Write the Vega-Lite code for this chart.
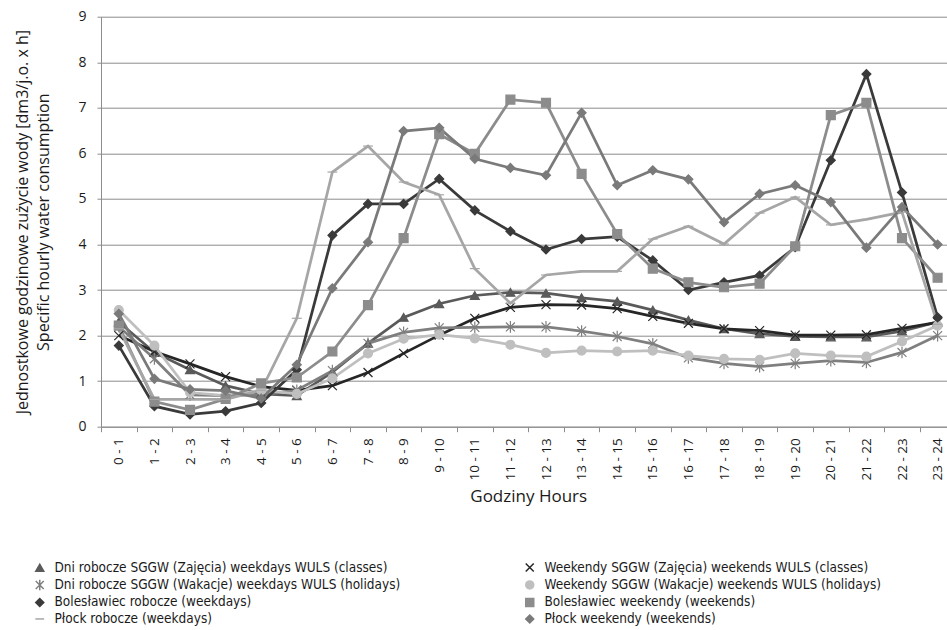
{
  "$schema": "https://vega.github.io/schema/vega-lite/v6.json",
  "width": 846,
  "height": 410,
  "autosize": {"type": "none"},
  "padding": {"left": 101, "top": 16.7, "right": 0, "bottom": 203.3},
  "background": "white",
  "config": {
    "view": {"stroke": null},
    "font": "Open Sans",
    "axis": {
      "gridColor": "#8c8c8c",
      "domainColor": "#8c8c8c",
      "tickColor": "#8c8c8c",
      "labelColor": "#1a1a1a",
      "titleColor": "#1a1a1a",
      "labelFont": "Open Sans",
      "titleFont": "Open Sans",
      "titleFontWeight": "normal"
    }
  },
  "data": {
    "values": [
      {"h": "0 - 1", "s": "Dni robocze SGGW (Zajęcia) weekdays WULS (classes)", "v": 2.3},
      {"h": "1 - 2", "s": "Dni robocze SGGW (Zajęcia) weekdays WULS (classes)", "v": 1.63},
      {"h": "2 - 3", "s": "Dni robocze SGGW (Zajęcia) weekdays WULS (classes)", "v": 1.25},
      {"h": "3 - 4", "s": "Dni robocze SGGW (Zajęcia) weekdays WULS (classes)", "v": 0.9},
      {"h": "4 - 5", "s": "Dni robocze SGGW (Zajęcia) weekdays WULS (classes)", "v": 0.72},
      {"h": "5 - 6", "s": "Dni robocze SGGW (Zajęcia) weekdays WULS (classes)", "v": 0.68},
      {"h": "6 - 7", "s": "Dni robocze SGGW (Zajęcia) weekdays WULS (classes)", "v": 1.2},
      {"h": "7 - 8", "s": "Dni robocze SGGW (Zajęcia) weekdays WULS (classes)", "v": 1.83},
      {"h": "8 - 9", "s": "Dni robocze SGGW (Zajęcia) weekdays WULS (classes)", "v": 2.4},
      {"h": "9 - 10", "s": "Dni robocze SGGW (Zajęcia) weekdays WULS (classes)", "v": 2.7},
      {"h": "10 - 11", "s": "Dni robocze SGGW (Zajęcia) weekdays WULS (classes)", "v": 2.88},
      {"h": "11 - 12", "s": "Dni robocze SGGW (Zajęcia) weekdays WULS (classes)", "v": 2.95},
      {"h": "12 - 13", "s": "Dni robocze SGGW (Zajęcia) weekdays WULS (classes)", "v": 2.93},
      {"h": "13 - 14", "s": "Dni robocze SGGW (Zajęcia) weekdays WULS (classes)", "v": 2.83},
      {"h": "14 - 15", "s": "Dni robocze SGGW (Zajęcia) weekdays WULS (classes)", "v": 2.75},
      {"h": "15 - 16", "s": "Dni robocze SGGW (Zajęcia) weekdays WULS (classes)", "v": 2.56},
      {"h": "16 - 17", "s": "Dni robocze SGGW (Zajęcia) weekdays WULS (classes)", "v": 2.34},
      {"h": "17 - 18", "s": "Dni robocze SGGW (Zajęcia) weekdays WULS (classes)", "v": 2.15},
      {"h": "18 - 19", "s": "Dni robocze SGGW (Zajęcia) weekdays WULS (classes)", "v": 2.04},
      {"h": "19 - 20", "s": "Dni robocze SGGW (Zajęcia) weekdays WULS (classes)", "v": 1.98},
      {"h": "20 - 21", "s": "Dni robocze SGGW (Zajęcia) weekdays WULS (classes)", "v": 1.97},
      {"h": "21 - 22", "s": "Dni robocze SGGW (Zajęcia) weekdays WULS (classes)", "v": 1.97},
      {"h": "22 - 23", "s": "Dni robocze SGGW (Zajęcia) weekdays WULS (classes)", "v": 2.1},
      {"h": "23 - 24", "s": "Dni robocze SGGW (Zajęcia) weekdays WULS (classes)", "v": 2.3},

      {"h": "0 - 1", "s": "Weekendy SGGW (Zajęcia) weekends WULS (classes)", "v": 2.0},
      {"h": "1 - 2", "s": "Weekendy SGGW (Zajęcia) weekends WULS (classes)", "v": 1.65},
      {"h": "2 - 3", "s": "Weekendy SGGW (Zajęcia) weekends WULS (classes)", "v": 1.38},
      {"h": "3 - 4", "s": "Weekendy SGGW (Zajęcia) weekends WULS (classes)", "v": 1.1},
      {"h": "4 - 5", "s": "Weekendy SGGW (Zajęcia) weekends WULS (classes)", "v": 0.88},
      {"h": "5 - 6", "s": "Weekendy SGGW (Zajęcia) weekends WULS (classes)", "v": 0.8},
      {"h": "6 - 7", "s": "Weekendy SGGW (Zajęcia) weekends WULS (classes)", "v": 0.9},
      {"h": "7 - 8", "s": "Weekendy SGGW (Zajęcia) weekends WULS (classes)", "v": 1.19},
      {"h": "8 - 9", "s": "Weekendy SGGW (Zajęcia) weekends WULS (classes)", "v": 1.61},
      {"h": "9 - 10", "s": "Weekendy SGGW (Zajęcia) weekends WULS (classes)", "v": 2.01},
      {"h": "10 - 11", "s": "Weekendy SGGW (Zajęcia) weekends WULS (classes)", "v": 2.38},
      {"h": "11 - 12", "s": "Weekendy SGGW (Zajęcia) weekends WULS (classes)", "v": 2.62},
      {"h": "12 - 13", "s": "Weekendy SGGW (Zajęcia) weekends WULS (classes)", "v": 2.68},
      {"h": "13 - 14", "s": "Weekendy SGGW (Zajęcia) weekends WULS (classes)", "v": 2.67},
      {"h": "14 - 15", "s": "Weekendy SGGW (Zajęcia) weekends WULS (classes)", "v": 2.59},
      {"h": "15 - 16", "s": "Weekendy SGGW (Zajęcia) weekends WULS (classes)", "v": 2.42},
      {"h": "16 - 17", "s": "Weekendy SGGW (Zajęcia) weekends WULS (classes)", "v": 2.27},
      {"h": "17 - 18", "s": "Weekendy SGGW (Zajęcia) weekends WULS (classes)", "v": 2.15},
      {"h": "18 - 19", "s": "Weekendy SGGW (Zajęcia) weekends WULS (classes)", "v": 2.11},
      {"h": "19 - 20", "s": "Weekendy SGGW (Zajęcia) weekends WULS (classes)", "v": 2.01},
      {"h": "20 - 21", "s": "Weekendy SGGW (Zajęcia) weekends WULS (classes)", "v": 2.01},
      {"h": "21 - 22", "s": "Weekendy SGGW (Zajęcia) weekends WULS (classes)", "v": 2.02},
      {"h": "22 - 23", "s": "Weekendy SGGW (Zajęcia) weekends WULS (classes)", "v": 2.16},
      {"h": "23 - 24", "s": "Weekendy SGGW (Zajęcia) weekends WULS (classes)", "v": 2.29},

      {"h": "0 - 1", "s": "Dni robocze SGGW (Wakacje) weekdays WULS (holidays)", "v": 2.2},
      {"h": "1 - 2", "s": "Dni robocze SGGW (Wakacje) weekdays WULS (holidays)", "v": 1.49},
      {"h": "2 - 3", "s": "Dni robocze SGGW (Wakacje) weekdays WULS (holidays)", "v": 0.7},
      {"h": "3 - 4", "s": "Dni robocze SGGW (Wakacje) weekdays WULS (holidays)", "v": 0.68},
      {"h": "4 - 5", "s": "Dni robocze SGGW (Wakacje) weekdays WULS (holidays)", "v": 0.7},
      {"h": "5 - 6", "s": "Dni robocze SGGW (Wakacje) weekdays WULS (holidays)", "v": 0.8},
      {"h": "6 - 7", "s": "Dni robocze SGGW (Wakacje) weekdays WULS (holidays)", "v": 1.23},
      {"h": "7 - 8", "s": "Dni robocze SGGW (Wakacje) weekdays WULS (holidays)", "v": 1.83},
      {"h": "8 - 9", "s": "Dni robocze SGGW (Wakacje) weekdays WULS (holidays)", "v": 2.07},
      {"h": "9 - 10", "s": "Dni robocze SGGW (Wakacje) weekdays WULS (holidays)", "v": 2.17},
      {"h": "10 - 11", "s": "Dni robocze SGGW (Wakacje) weekdays WULS (holidays)", "v": 2.18},
      {"h": "11 - 12", "s": "Dni robocze SGGW (Wakacje) weekdays WULS (holidays)", "v": 2.19},
      {"h": "12 - 13", "s": "Dni robocze SGGW (Wakacje) weekdays WULS (holidays)", "v": 2.19},
      {"h": "13 - 14", "s": "Dni robocze SGGW (Wakacje) weekdays WULS (holidays)", "v": 2.1},
      {"h": "14 - 15", "s": "Dni robocze SGGW (Wakacje) weekdays WULS (holidays)", "v": 1.98},
      {"h": "15 - 16", "s": "Dni robocze SGGW (Wakacje) weekdays WULS (holidays)", "v": 1.82},
      {"h": "16 - 17", "s": "Dni robocze SGGW (Wakacje) weekdays WULS (holidays)", "v": 1.51},
      {"h": "17 - 18", "s": "Dni robocze SGGW (Wakacje) weekdays WULS (holidays)", "v": 1.39},
      {"h": "18 - 19", "s": "Dni robocze SGGW (Wakacje) weekdays WULS (holidays)", "v": 1.32},
      {"h": "19 - 20", "s": "Dni robocze SGGW (Wakacje) weekdays WULS (holidays)", "v": 1.39},
      {"h": "20 - 21", "s": "Dni robocze SGGW (Wakacje) weekdays WULS (holidays)", "v": 1.45},
      {"h": "21 - 22", "s": "Dni robocze SGGW (Wakacje) weekdays WULS (holidays)", "v": 1.41},
      {"h": "22 - 23", "s": "Dni robocze SGGW (Wakacje) weekdays WULS (holidays)", "v": 1.63},
      {"h": "23 - 24", "s": "Dni robocze SGGW (Wakacje) weekdays WULS (holidays)", "v": 2.0},

      {"h": "0 - 1", "s": "Weekendy SGGW (Wakacje) weekends WULS (holidays)", "v": 2.56},
      {"h": "1 - 2", "s": "Weekendy SGGW (Wakacje) weekends WULS (holidays)", "v": 1.78},
      {"h": "2 - 3", "s": "Weekendy SGGW (Wakacje) weekends WULS (holidays)", "v": 0.75},
      {"h": "3 - 4", "s": "Weekendy SGGW (Wakacje) weekends WULS (holidays)", "v": 0.68},
      {"h": "4 - 5", "s": "Weekendy SGGW (Wakacje) weekends WULS (holidays)", "v": 0.8},
      {"h": "5 - 6", "s": "Weekendy SGGW (Wakacje) weekends WULS (holidays)", "v": 0.72},
      {"h": "6 - 7", "s": "Weekendy SGGW (Wakacje) weekends WULS (holidays)", "v": 1.06},
      {"h": "7 - 8", "s": "Weekendy SGGW (Wakacje) weekends WULS (holidays)", "v": 1.61},
      {"h": "8 - 9", "s": "Weekendy SGGW (Wakacje) weekends WULS (holidays)", "v": 1.93},
      {"h": "9 - 10", "s": "Weekendy SGGW (Wakacje) weekends WULS (holidays)", "v": 2.02},
      {"h": "10 - 11", "s": "Weekendy SGGW (Wakacje) weekends WULS (holidays)", "v": 1.94},
      {"h": "11 - 12", "s": "Weekendy SGGW (Wakacje) weekends WULS (holidays)", "v": 1.8},
      {"h": "12 - 13", "s": "Weekendy SGGW (Wakacje) weekends WULS (holidays)", "v": 1.62},
      {"h": "13 - 14", "s": "Weekendy SGGW (Wakacje) weekends WULS (holidays)", "v": 1.67},
      {"h": "14 - 15", "s": "Weekendy SGGW (Wakacje) weekends WULS (holidays)", "v": 1.65},
      {"h": "15 - 16", "s": "Weekendy SGGW (Wakacje) weekends WULS (holidays)", "v": 1.67},
      {"h": "16 - 17", "s": "Weekendy SGGW (Wakacje) weekends WULS (holidays)", "v": 1.56},
      {"h": "17 - 18", "s": "Weekendy SGGW (Wakacje) weekends WULS (holidays)", "v": 1.49},
      {"h": "18 - 19", "s": "Weekendy SGGW (Wakacje) weekends WULS (holidays)", "v": 1.47},
      {"h": "19 - 20", "s": "Weekendy SGGW (Wakacje) weekends WULS (holidays)", "v": 1.61},
      {"h": "20 - 21", "s": "Weekendy SGGW (Wakacje) weekends WULS (holidays)", "v": 1.56},
      {"h": "21 - 22", "s": "Weekendy SGGW (Wakacje) weekends WULS (holidays)", "v": 1.54},
      {"h": "22 - 23", "s": "Weekendy SGGW (Wakacje) weekends WULS (holidays)", "v": 1.87},
      {"h": "23 - 24", "s": "Weekendy SGGW (Wakacje) weekends WULS (holidays)", "v": 2.22},

      {"h": "0 - 1", "s": "Bolesławiec robocze (weekdays)", "v": 1.78},
      {"h": "1 - 2", "s": "Bolesławiec robocze (weekdays)", "v": 0.45},
      {"h": "2 - 3", "s": "Bolesławiec robocze (weekdays)", "v": 0.27},
      {"h": "3 - 4", "s": "Bolesławiec robocze (weekdays)", "v": 0.34},
      {"h": "4 - 5", "s": "Bolesławiec robocze (weekdays)", "v": 0.52},
      {"h": "5 - 6", "s": "Bolesławiec robocze (weekdays)", "v": 1.25},
      {"h": "6 - 7", "s": "Bolesławiec robocze (weekdays)", "v": 4.2},
      {"h": "7 - 8", "s": "Bolesławiec robocze (weekdays)", "v": 4.89},
      {"h": "8 - 9", "s": "Bolesławiec robocze (weekdays)", "v": 4.89},
      {"h": "9 - 10", "s": "Bolesławiec robocze (weekdays)", "v": 5.44},
      {"h": "10 - 11", "s": "Bolesławiec robocze (weekdays)", "v": 4.75},
      {"h": "11 - 12", "s": "Bolesławiec robocze (weekdays)", "v": 4.29},
      {"h": "12 - 13", "s": "Bolesławiec robocze (weekdays)", "v": 3.89},
      {"h": "13 - 14", "s": "Bolesławiec robocze (weekdays)", "v": 4.12},
      {"h": "14 - 15", "s": "Bolesławiec robocze (weekdays)", "v": 4.17},
      {"h": "15 - 16", "s": "Bolesławiec robocze (weekdays)", "v": 3.65},
      {"h": "16 - 17", "s": "Bolesławiec robocze (weekdays)", "v": 3.0},
      {"h": "17 - 18", "s": "Bolesławiec robocze (weekdays)", "v": 3.17},
      {"h": "18 - 19", "s": "Bolesławiec robocze (weekdays)", "v": 3.32},
      {"h": "19 - 20", "s": "Bolesławiec robocze (weekdays)", "v": 3.94},
      {"h": "20 - 21", "s": "Bolesławiec robocze (weekdays)", "v": 5.85},
      {"h": "21 - 22", "s": "Bolesławiec robocze (weekdays)", "v": 7.74},
      {"h": "22 - 23", "s": "Bolesławiec robocze (weekdays)", "v": 5.14},
      {"h": "23 - 24", "s": "Bolesławiec robocze (weekdays)", "v": 2.4},

      {"h": "0 - 1", "s": "Bolesławiec weekendy (weekends)", "v": 2.22},
      {"h": "1 - 2", "s": "Bolesławiec weekendy (weekends)", "v": 0.55},
      {"h": "2 - 3", "s": "Bolesławiec weekendy (weekends)", "v": 0.37},
      {"h": "3 - 4", "s": "Bolesławiec weekendy (weekends)", "v": 0.61},
      {"h": "4 - 5", "s": "Bolesławiec weekendy (weekends)", "v": 0.95},
      {"h": "5 - 6", "s": "Bolesławiec weekendy (weekends)", "v": 1.08},
      {"h": "6 - 7", "s": "Bolesławiec weekendy (weekends)", "v": 1.65},
      {"h": "7 - 8", "s": "Bolesławiec weekendy (weekends)", "v": 2.67},
      {"h": "8 - 9", "s": "Bolesławiec weekendy (weekends)", "v": 4.14},
      {"h": "9 - 10", "s": "Bolesławiec weekendy (weekends)", "v": 6.42},
      {"h": "10 - 11", "s": "Bolesławiec weekendy (weekends)", "v": 5.99},
      {"h": "11 - 12", "s": "Bolesławiec weekendy (weekends)", "v": 7.18},
      {"h": "12 - 13", "s": "Bolesławiec weekendy (weekends)", "v": 7.11},
      {"h": "13 - 14", "s": "Bolesławiec weekendy (weekends)", "v": 5.55},
      {"h": "14 - 15", "s": "Bolesławiec weekendy (weekends)", "v": 4.23},
      {"h": "15 - 16", "s": "Bolesławiec weekendy (weekends)", "v": 3.47},
      {"h": "16 - 17", "s": "Bolesławiec weekendy (weekends)", "v": 3.17},
      {"h": "17 - 18", "s": "Bolesławiec weekendy (weekends)", "v": 3.06},
      {"h": "18 - 19", "s": "Bolesławiec weekendy (weekends)", "v": 3.14},
      {"h": "19 - 20", "s": "Bolesławiec weekendy (weekends)", "v": 3.96},
      {"h": "20 - 21", "s": "Bolesławiec weekendy (weekends)", "v": 6.84},
      {"h": "21 - 22", "s": "Bolesławiec weekendy (weekends)", "v": 7.11},
      {"h": "22 - 23", "s": "Bolesławiec weekendy (weekends)", "v": 4.14},
      {"h": "23 - 24", "s": "Bolesławiec weekendy (weekends)", "v": 3.27},

      {"h": "0 - 1", "s": "Płock robocze (weekdays)", "v": 2.15},
      {"h": "1 - 2", "s": "Płock robocze (weekdays)", "v": 0.6},
      {"h": "2 - 3", "s": "Płock robocze (weekdays)", "v": 0.6},
      {"h": "3 - 4", "s": "Płock robocze (weekdays)", "v": 0.6},
      {"h": "4 - 5", "s": "Płock robocze (weekdays)", "v": 0.8},
      {"h": "5 - 6", "s": "Płock robocze (weekdays)", "v": 2.38},
      {"h": "6 - 7", "s": "Płock robocze (weekdays)", "v": 5.59},
      {"h": "7 - 8", "s": "Płock robocze (weekdays)", "v": 6.16},
      {"h": "8 - 9", "s": "Płock robocze (weekdays)", "v": 5.37},
      {"h": "9 - 10", "s": "Płock robocze (weekdays)", "v": 5.09},
      {"h": "10 - 11", "s": "Płock robocze (weekdays)", "v": 3.47},
      {"h": "11 - 12", "s": "Płock robocze (weekdays)", "v": 2.71},
      {"h": "12 - 13", "s": "Płock robocze (weekdays)", "v": 3.33},
      {"h": "13 - 14", "s": "Płock robocze (weekdays)", "v": 3.41},
      {"h": "14 - 15", "s": "Płock robocze (weekdays)", "v": 3.41},
      {"h": "15 - 16", "s": "Płock robocze (weekdays)", "v": 4.12},
      {"h": "16 - 17", "s": "Płock robocze (weekdays)", "v": 4.4},
      {"h": "17 - 18", "s": "Płock robocze (weekdays)", "v": 4.01},
      {"h": "18 - 19", "s": "Płock robocze (weekdays)", "v": 4.69},
      {"h": "19 - 20", "s": "Płock robocze (weekdays)", "v": 5.04},
      {"h": "20 - 21", "s": "Płock robocze (weekdays)", "v": 4.43},
      {"h": "21 - 22", "s": "Płock robocze (weekdays)", "v": 4.55},
      {"h": "22 - 23", "s": "Płock robocze (weekdays)", "v": 4.71},
      {"h": "23 - 24", "s": "Płock robocze (weekdays)", "v": 2.25},

      {"h": "0 - 1", "s": "Płock weekendy (weekends)", "v": 2.48},
      {"h": "1 - 2", "s": "Płock weekendy (weekends)", "v": 1.05},
      {"h": "2 - 3", "s": "Płock weekendy (weekends)", "v": 0.82},
      {"h": "3 - 4", "s": "Płock weekendy (weekends)", "v": 0.79},
      {"h": "4 - 5", "s": "Płock weekendy (weekends)", "v": 0.62},
      {"h": "5 - 6", "s": "Płock weekendy (weekends)", "v": 1.36},
      {"h": "6 - 7", "s": "Płock weekendy (weekends)", "v": 3.04},
      {"h": "7 - 8", "s": "Płock weekendy (weekends)", "v": 4.05},
      {"h": "8 - 9", "s": "Płock weekendy (weekends)", "v": 6.49},
      {"h": "9 - 10", "s": "Płock weekendy (weekends)", "v": 6.56},
      {"h": "10 - 11", "s": "Płock weekendy (weekends)", "v": 5.88},
      {"h": "11 - 12", "s": "Płock weekendy (weekends)", "v": 5.68},
      {"h": "12 - 13", "s": "Płock weekendy (weekends)", "v": 5.52},
      {"h": "13 - 14", "s": "Płock weekendy (weekends)", "v": 6.89},
      {"h": "14 - 15", "s": "Płock weekendy (weekends)", "v": 5.3},
      {"h": "15 - 16", "s": "Płock weekendy (weekends)", "v": 5.63},
      {"h": "16 - 17", "s": "Płock weekendy (weekends)", "v": 5.43},
      {"h": "17 - 18", "s": "Płock weekendy (weekends)", "v": 4.49},
      {"h": "18 - 19", "s": "Płock weekendy (weekends)", "v": 5.11},
      {"h": "19 - 20", "s": "Płock weekendy (weekends)", "v": 5.3},
      {"h": "20 - 21", "s": "Płock weekendy (weekends)", "v": 4.93},
      {"h": "21 - 22", "s": "Płock weekendy (weekends)", "v": 3.93},
      {"h": "22 - 23", "s": "Płock weekendy (weekends)", "v": 4.82},
      {"h": "23 - 24", "s": "Płock weekendy (weekends)", "v": 4.0}
    ]
  },
  "encoding": {
    "x": {
      "field": "h",
      "type": "ordinal",
      "sort": null,
      "bandPosition": 0.5,
      "scale": {"type": "band", "range": [0, 854.4], "paddingInner": 0, "paddingOuter": 0},
      "axis": {
        "title": "Godziny Hours",
        "titleFontSize": 17,
        "titlePadding": 9,
        "labelAngle": 270,
        "labelFontSize": 13.5,
        "labelPadding": 6,
        "tickBand": "extent",
        "tickSize": 5,
        "grid": false
      }
    },
    "y": {
      "field": "v",
      "type": "quantitative",
      "scale": {"domain": [0, 9], "nice": false, "zero": true},
      "axis": {
        "title": ["Jednostkowe godzinowe zużycie wody [dm3/j.o. x h]", "Specific hourly water consumption"],
        "titleFontSize": 16,
        "titleLineHeight": 21,
        "titlePadding": 26,
        "values": [0, 1, 2, 3, 4, 5, 6, 7, 8, 9],
        "labelFontSize": 14,
        "labelPadding": 11,
        "tickSize": 4,
        "grid": true
      }
    },
    "color": {
      "field": "s",
      "type": "nominal",
      "scale": {
        "domain": [
          "Dni robocze SGGW (Zajęcia) weekdays WULS (classes)",
          "Dni robocze SGGW (Wakacje) weekdays WULS (holidays)",
          "Bolesławiec robocze (weekdays)",
          "Płock robocze (weekdays)",
          "Weekendy SGGW (Zajęcia) weekends WULS (classes)",
          "Weekendy SGGW (Wakacje) weekends WULS (holidays)",
          "Bolesławiec weekendy (weekends)",
          "Płock weekendy (weekends)"
        ],
        "range": ["#5a5a5a", "#7f7f7f", "#3a3a3a", "#a6a6a6", "#262626", "#bfbfbf", "#8c8c8c", "#7a7a7a"]
      },
      "legend": {
        "orient": "none",
        "legendX": -68,
        "legendY": 544,
        "columns": 2,
        "columnPadding": 121,
        "rowPadding": 1.5,
        "padding": 0,
        "title": null,
        "labelFont": "'Liberation Sans Narrow', 'DejaVu Sans Condensed', sans-serif",
        "labelFontSize": 13.5,
        "labelColor": "#1a1a1a",
        "labelOffset": 8,
        "labelLimit": 0,
        "symbolSize": 64,
        "symbolStrokeWidth": 1.5
      }
    }
  },
  "layer": [
    {
      "mark": {"type": "line", "strokeWidth": 2.75}
    },
    {
      "mark": {"type": "point", "filled": true, "opacity": 1, "size": 80, "strokeWidth": 1.2},
      "encoding": {
        "shape": {
          "field": "s",
          "type": "nominal",
          "legend": null,
          "scale": {
            "domain": [
              "Dni robocze SGGW (Zajęcia) weekdays WULS (classes)",
              "Dni robocze SGGW (Wakacje) weekdays WULS (holidays)",
              "Bolesławiec robocze (weekdays)",
              "Płock robocze (weekdays)",
              "Weekendy SGGW (Zajęcia) weekends WULS (classes)",
              "Weekendy SGGW (Wakacje) weekends WULS (holidays)",
              "Bolesławiec weekendy (weekends)",
              "Płock weekendy (weekends)"
            ],
            "range": ["triangle-up", "M-1,-1L1,1M-1,1L1,-1M0,-1.3V1.3", "diamond", "M-1.1,0H1.1", "M-1,-1L1,1M-1,1L1,-1", "circle", "square", "diamond"]
          }
        },
        "stroke": {
          "field": "s",
          "type": "nominal",
          "legend": null,
          "scale": {
            "domain": [
              "Dni robocze SGGW (Zajęcia) weekdays WULS (classes)",
              "Dni robocze SGGW (Wakacje) weekdays WULS (holidays)",
              "Bolesławiec robocze (weekdays)",
              "Płock robocze (weekdays)",
              "Weekendy SGGW (Zajęcia) weekends WULS (classes)",
              "Weekendy SGGW (Wakacje) weekends WULS (holidays)",
              "Bolesławiec weekendy (weekends)",
              "Płock weekendy (weekends)"
            ],
            "range": ["#5a5a5a", "#7f7f7f", "#3a3a3a", "#a6a6a6", "#262626", "#bfbfbf", "#8c8c8c", "#7a7a7a"]
          }
        }
      }
    }
  ]
}
